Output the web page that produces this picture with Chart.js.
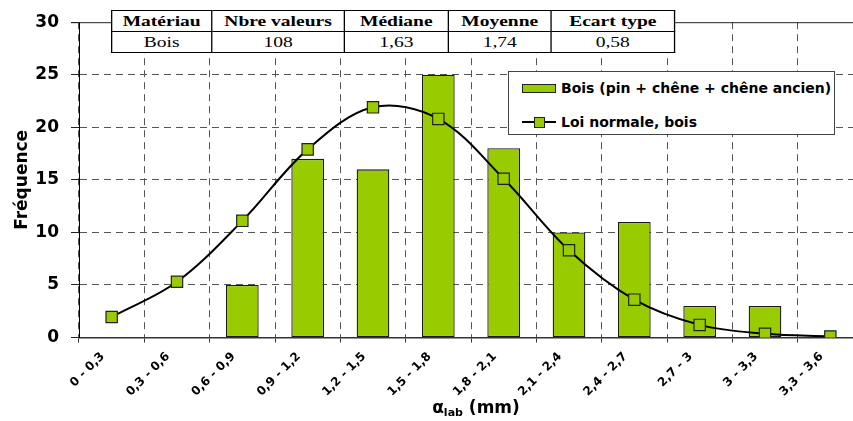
<!DOCTYPE html>
<html>
<head>
<meta charset="utf-8">
<script src="https://cdn.jsdelivr.net/npm/chart.js"></script>
<style>
  body { margin: 0; overflow: hidden; background: #fff; }
  #wrap { position: relative; width: 880px; height: 421px; }
  #stats {
    position: absolute; left: 111px; top: 10px;
    border-collapse: collapse; background: #fff;
    font-family: "Liberation Serif", serif; font-size: 15px;
    transform: scaleX(1.3); transform-origin: 0 0;
  }
  #stats td { border: 1px solid #000; padding: 0; height: 20px; line-height: 20px; text-align: center; }
  #stats tr:first-child td { font-weight: bold; }
  #legend {
    position: absolute; left: 508px; top: 71px; width: 327px; height: 64px;
    box-sizing: border-box; border: 1px solid #444; background: #fff;
    font-family: "DejaVu Sans", sans-serif; font-weight: bold; font-size: 14px;
  }
  .lg-row { position: absolute; left: 0; height: 20px; line-height: 20px; white-space: nowrap; }
  .lg-text { position: absolute; left: 52px; top: 0; }
  .sw-bar { position: absolute; left: 13px; top: 6px; width: 32px; height: 7px; border: 1px solid #222; }
  .sw-line { position: absolute; left: 13px; top: 9px; width: 34px; height: 2px; background: #000; }
  .sw-pt { position: absolute; left: 25px; top: 5px; width: 9px; height: 9px; border: 1px solid #222; }
  #xtitle {
    position: absolute; left: 371px; width: 210px; top: 397px; text-align: center;
    font-family: "DejaVu Sans", sans-serif; font-weight: bold; font-size: 17px; line-height: 20px;
  }
  #xtitle sub { font-size: 11px; vertical-align: -3px; }
</style>
</head>
<body>
<div id="wrap">
  <canvas id="chart" width="880" height="421"></canvas>
  <table id="stats"></table>
  <div id="legend"></div>
  <div id="xtitle">α<sub>lab</sub> (mm)</div>
</div>
<script>
// data
const classes = ["0 - 0,3", "0,3 - 0,6", "0,6 - 0,9", "0,9 - 1,2", "1,2 - 1,5", "1,5 - 1,8",
  "1,8 - 2,1", "2,1 - 2,4", "2,4 - 2,7", "2,7 - 3", "3 - 3,3", "3,3 - 3,6"];
const counts = [0, 0, 5, 17, 16, 25, 18, 10, 11, 3, 3, 0];
const normalFit = [1.95, 5.3, 11.1, 17.9, 21.9, 20.8, 15.1, 8.3, 3.6, 1.2, 0.35, 0.1];
const yTicks = [0, 5, 10, 15, 20, 25, 30];

const statHeaders = ["Matériau", "Nbre valeurs", "Médiane", "Moyenne", "Ecart type"];
const statValues = ["Bois", "108", "1,63", "1,74", "0,58"];
const statWidths = [76, 101, 79, 78, 94];

const green = "#99cc00";

// stats table
const table = document.getElementById("stats");
[statHeaders, statValues].forEach((row) => {
  const tr = document.createElement("tr");
  row.forEach((txt, i) => {
    const td = document.createElement("td");
    td.textContent = txt;
    td.style.width = statWidths[i] + "px";
    tr.appendChild(td);
  });
  table.appendChild(tr);
});

// solid top edge of the plot frame
const frameTop = {
  id: "frameTop",
  afterDraw(chart) {
    const { ctx, chartArea } = chart;
    ctx.save();
    ctx.strokeStyle = "#222";
    ctx.lineWidth = 1;
    ctx.beginPath();
    ctx.moveTo(chartArea.left - 8, chartArea.top + 0.5);
    ctx.lineTo(chartArea.right, chartArea.top + 0.5);
    ctx.stroke();
    ctx.restore();
  },
};

Chart.defaults.font.family = "'DejaVu Sans', sans-serif";
Chart.defaults.color = "#000";

const chart = new Chart(document.getElementById("chart").getContext("2d"), {
  type: "bar",
  data: {
    labels: classes,
    datasets: [
      {
        label: "Bois (pin + chêne + chêne ancien)",
        data: counts,
        backgroundColor: green,
        borderColor: "#1a1a1a",
        borderWidth: (c) => (c.raw ? 1.3 : 0),
        borderSkipped: false,
        barPercentage: 0.5,
        categoryPercentage: 1.0,
        order: 1,
      },
      {
        type: "line",
        label: "Loi normale, bois",
        data: normalFit,
        borderColor: "#000",
        borderWidth: 2,
        tension: 0.35,
        pointStyle: "rect",
        pointRadius: 8,
        pointBackgroundColor: green,
        pointBorderColor: "#222",
        pointBorderWidth: 1.2,
        order: 0,
      },
    ],
  },
  options: {
    responsive: false,
    animation: false,
    layout: { padding: { top: 17, right: 17, left: 0, bottom: 0 } },
    plugins: { legend: { display: false }, tooltip: { enabled: false } },
    scales: {
      x: {
        afterFit: (s) => { s.height = 83.5; },
        grid: { color: "#555", tickLength: 5, tickColor: "#333" },
        border: { color: "#333", width: 1.5, dash: [7, 5] },
        ticks: {
          autoSkip: false,
          minRotation: 45,
          maxRotation: 45,
          padding: 7,
          labelOffset: -9,
          font: { size: 12, weight: "bold" },
        },
      },
      y: {
        min: 0,
        max: 30,
        afterFit: (s) => { s.width = 79; },
        afterBuildTicks: (s) => { s.ticks = yTicks.map((v) => ({ value: v })); },
        grid: {
          color: (c) => (c.tick && (c.tick.value === 0 || c.tick.value === 30) ? "rgba(0,0,0,0)" : "#555"),
          tickLength: 8,
          tickColor: "#222",
        },
        border: { color: "#000", width: 1, dash: [7, 5] },
        ticks: { padding: 12, font: { size: 17, weight: "bold" } },
        title: {
          display: true,
          text: "Fréquence",
          font: { size: 17, weight: "bold", lineHeight: 1.2 },
          padding: { top: 12, bottom: 0 },
        },
      },
    },
  },
  plugins: [frameTop],
});

// legend built from the datasets
const legend = document.getElementById("legend");
chart.data.datasets.forEach((ds, i) => {
  const row = document.createElement("div");
  row.className = "lg-row";
  row.style.top = (i === 0 ? 6 : 40) + "px";
  row.style.width = "100%";
  if (ds.type === "line") {
    row.innerHTML = '<span class="sw-line"></span><span class="sw-pt"></span>';
    row.querySelector(".sw-pt").style.background = ds.pointBackgroundColor;
  } else {
    row.innerHTML = '<span class="sw-bar"></span>';
    row.querySelector(".sw-bar").style.background = ds.backgroundColor;
  }
  const t = document.createElement("span");
  t.className = "lg-text";
  t.textContent = ds.label;
  row.appendChild(t);
  legend.appendChild(row);
});
</script>
</body>
</html>
